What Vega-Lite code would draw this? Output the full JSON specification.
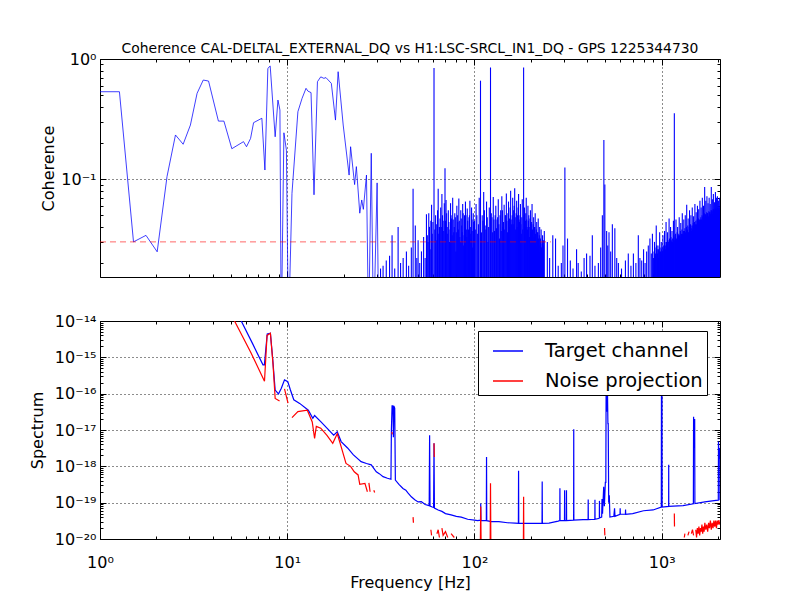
{
  "$schema": "https://vega.github.io/schema/vega-lite/v6.json",
  "padding": {"left": 28, "top": 41, "right": 5, "bottom": 5},
  "bounds": "flush",
  "spacing": 44,
  "config": {
    "font": "DejaVu Sans",
    "view": {"stroke": "black", "strokeWidth": 1},
    "axis": {
      "domain": false,
      "tickColor": "black",
      "tickWidth": 1,
      "labelColor": "black",
      "labelFontSize": 16,
      "labelOverlap": false,
      "labelFlush": false,
      "titleFontSize": 16,
      "titleFontWeight": "normal",
      "titleColor": "black",
      "gridColor": "black",
      "gridDash": [1, 3],
      "gridWidth": 1
    }
  },
  "vconcat": [
    {
      "width": 620,
      "height": 218,
      "title": {
        "text": "Coherence CAL-DELTAL_EXTERNAL_DQ vs H1:LSC-SRCL_IN1_DQ - GPS 1225344730",
        "fontSize": 13.9,
        "fontWeight": "normal",
        "color": "black",
        "offset": -5,
        "anchor": "middle"
      },
      "layer": [
        {
          "data": {"values": [
            {"f": 31.5, "c": 0.018}, {"f": 32.5, "c": 0.019}, {"f": 33.8, "c": 0.021}, {"f": 35.2, "c": 0.023},
            {"f": 36.3, "c": 0.034}, {"f": 37.5, "c": 0.018}, {"f": 39.1, "c": 0.04}, {"f": 40.3, "c": 0.02},
            {"f": 41.6, "c": 0.022}, {"f": 43.3, "c": 0.025}, {"f": 44.5, "c": 0.019}, {"f": 46, "c": 0.027},
            {"f": 47, "c": 0.083}, {"f": 48.3, "c": 0.041}, {"f": 49.2, "c": 0.022}, {"f": 50, "c": 0.031},
            {"f": 51, "c": 0.02}, {"f": 52.1, "c": 0.025}, {"f": 53.5, "c": 0.033}, {"f": 54.5, "c": 0.022},
            {"f": 55.4, "c": 0.051},
            {"f": 56, "c": 0.034}, {"f": 57, "c": 0.052}, {"f": 58, "c": 0.026}, {"f": 59, "c": 0.061},
            {"f": 60, "c": 0.044}, {"f": 60.8, "c": 0.84}, {"f": 62, "c": 0.05}, {"f": 63, "c": 0.031},
            {"f": 64, "c": 0.083}, {"f": 65, "c": 0.04}, {"f": 66, "c": 0.058}, {"f": 67, "c": 0.075},
            {"f": 68, "c": 0.045}, {"f": 69, "c": 0.063}, {"f": 69.6, "c": 0.123}, {"f": 70.5, "c": 0.067},
            {"f": 71.5, "c": 0.04}, {"f": 72.5, "c": 0.055}, {"f": 73.5, "c": 0.03}, {"f": 74.5, "c": 0.063},
            {"f": 75.5, "c": 0.047}, {"f": 76.5, "c": 0.07}, {"f": 77.5, "c": 0.036}, {"f": 78.5, "c": 0.052},
            {"f": 79.5, "c": 0.025}, {"f": 80.5, "c": 0.06}, {"f": 81.5, "c": 0.044}, {"f": 82.5, "c": 0.069},
            {"f": 83.5, "c": 0.033}, {"f": 84.5, "c": 0.055}, {"f": 85.5, "c": 0.041}, {"f": 86.5, "c": 0.062},
            {"f": 87.5, "c": 0.028}, {"f": 88.5, "c": 0.05}, {"f": 89.5, "c": 0.065}, {"f": 90.5, "c": 0.038},
            {"f": 91.5, "c": 0.057}, {"f": 92.5, "c": 0.03}, {"f": 93.5, "c": 0.048}, {"f": 94.5, "c": 0.066},
            {"f": 95.5, "c": 0.035}, {"f": 96.5, "c": 0.058}, {"f": 97.5, "c": 0.027}, {"f": 98.5, "c": 0.052},
            {"f": 99.5, "c": 0.04},
            {"f": 56.5, "c": 0.03}, {"f": 57.5, "c": 0.04}, {"f": 58.5, "c": 0.045}, {"f": 59.5, "c": 0.035},
            {"f": 61.4, "c": 0.038}, {"f": 62.5, "c": 0.042}, {"f": 63.5, "c": 0.055}, {"f": 64.5, "c": 0.035},
            {"f": 65.5, "c": 0.047}, {"f": 66.5, "c": 0.04}, {"f": 67.5, "c": 0.05}, {"f": 68.5, "c": 0.037},
            {"f": 70, "c": 0.045}, {"f": 71, "c": 0.052}, {"f": 72, "c": 0.035}, {"f": 73, "c": 0.044},
            {"f": 74, "c": 0.038}, {"f": 75, "c": 0.05}, {"f": 76, "c": 0.034}, {"f": 77, "c": 0.046},
            {"f": 78, "c": 0.04}, {"f": 79, "c": 0.048}, {"f": 80, "c": 0.036}, {"f": 81, "c": 0.05},
            {"f": 82, "c": 0.038}, {"f": 83, "c": 0.045}, {"f": 84, "c": 0.03}, {"f": 85, "c": 0.047},
            {"f": 86, "c": 0.036}, {"f": 87, "c": 0.052}, {"f": 88, "c": 0.034}, {"f": 89, "c": 0.042},
            {"f": 90, "c": 0.05}, {"f": 91, "c": 0.033}, {"f": 92, "c": 0.045}, {"f": 93, "c": 0.038},
            {"f": 94, "c": 0.05}, {"f": 95, "c": 0.04}, {"f": 96, "c": 0.032}, {"f": 97, "c": 0.046},
            {"f": 98, "c": 0.037}, {"f": 99, "c": 0.044},
            {"f": 100, "c": 0.045}, {"f": 102, "c": 0.062}, {"f": 104, "c": 0.035}, {"f": 106, "c": 0.07},
            {"f": 107.7, "c": 0.66}, {"f": 110, "c": 0.05}, {"f": 112, "c": 0.078}, {"f": 114, "c": 0.041},
            {"f": 116, "c": 0.065}, {"f": 118, "c": 0.03}, {"f": 120, "c": 0.058}, {"f": 121.8, "c": 0.85},
            {"f": 124, "c": 0.048}, {"f": 126, "c": 0.071}, {"f": 128, "c": 0.037}, {"f": 130, "c": 0.06},
            {"f": 132, "c": 0.046}, {"f": 134, "c": 0.068}, {"f": 136, "c": 0.032}, {"f": 138, "c": 0.055},
            {"f": 140, "c": 0.072}, {"f": 142, "c": 0.04}, {"f": 144, "c": 0.061}, {"f": 146, "c": 0.05},
            {"f": 148, "c": 0.076}, {"f": 150, "c": 0.036}, {"f": 152, "c": 0.065}, {"f": 154, "c": 0.047},
            {"f": 156, "c": 0.08}, {"f": 158, "c": 0.042}, {"f": 160, "c": 0.07}, {"f": 162, "c": 0.055},
            {"f": 164, "c": 0.084}, {"f": 166, "c": 0.038}, {"f": 168, "c": 0.066}, {"f": 170, "c": 0.05},
            {"f": 172, "c": 0.075}, {"f": 174, "c": 0.044}, {"f": 176, "c": 0.062}, {"f": 178, "c": 0.035},
            {"f": 180, "c": 0.068}, {"f": 183, "c": 0.85}, {"f": 185, "c": 0.058}, {"f": 187, "c": 0.045},
            {"f": 189, "c": 0.07}, {"f": 191, "c": 0.04}, {"f": 193, "c": 0.06}, {"f": 195, "c": 0.05},
            {"f": 197, "c": 0.033}, {"f": 199, "c": 0.055}, {"f": 201, "c": 0.042}, {"f": 203, "c": 0.062},
            {"f": 205, "c": 0.03}, {"f": 207, "c": 0.048}, {"f": 209, "c": 0.04}, {"f": 211, "c": 0.052},
            {"f": 213, "c": 0.028}, {"f": 215, "c": 0.044}, {"f": 217, "c": 0.036}, {"f": 219, "c": 0.047},
            {"f": 221, "c": 0.025}, {"f": 223, "c": 0.04}, {"f": 225, "c": 0.032}, {"f": 227, "c": 0.038},
            {"f": 229, "c": 0.022}, {"f": 231, "c": 0.034}, {"f": 233, "c": 0.028}, {"f": 236, "c": 0.037},
            {"f": 101, "c": 0.038}, {"f": 103, "c": 0.05}, {"f": 105, "c": 0.042}, {"f": 109, "c": 0.036},
            {"f": 111, "c": 0.045}, {"f": 113, "c": 0.055}, {"f": 115, "c": 0.038}, {"f": 117, "c": 0.048},
            {"f": 119, "c": 0.04}, {"f": 123, "c": 0.052}, {"f": 125, "c": 0.036}, {"f": 127, "c": 0.046},
            {"f": 129, "c": 0.05}, {"f": 131, "c": 0.039}, {"f": 133, "c": 0.048}, {"f": 135, "c": 0.042},
            {"f": 137, "c": 0.05}, {"f": 139, "c": 0.037}, {"f": 141, "c": 0.055}, {"f": 143, "c": 0.044},
            {"f": 145, "c": 0.038}, {"f": 147, "c": 0.05}, {"f": 149, "c": 0.045}, {"f": 151, "c": 0.052},
            {"f": 153, "c": 0.04}, {"f": 155, "c": 0.058}, {"f": 157, "c": 0.046}, {"f": 159, "c": 0.05},
            {"f": 161, "c": 0.042}, {"f": 163, "c": 0.06}, {"f": 165, "c": 0.048}, {"f": 167, "c": 0.052},
            {"f": 169, "c": 0.04}, {"f": 171, "c": 0.058}, {"f": 173, "c": 0.046}, {"f": 175, "c": 0.05},
            {"f": 177, "c": 0.042}, {"f": 179, "c": 0.048}, {"f": 181, "c": 0.038}, {"f": 184, "c": 0.05},
            {"f": 186, "c": 0.04}, {"f": 188, "c": 0.052}, {"f": 190, "c": 0.046}, {"f": 192, "c": 0.038},
            {"f": 194, "c": 0.045}, {"f": 196, "c": 0.04}, {"f": 198, "c": 0.047}, {"f": 200, "c": 0.036},
            {"f": 202, "c": 0.044}, {"f": 204, "c": 0.038}, {"f": 206, "c": 0.042}, {"f": 208, "c": 0.033},
            {"f": 210, "c": 0.04}, {"f": 212, "c": 0.035}, {"f": 214, "c": 0.038}, {"f": 216, "c": 0.03},
            {"f": 218, "c": 0.036}, {"f": 220, "c": 0.032}, {"f": 222, "c": 0.034}, {"f": 224, "c": 0.028},
            {"f": 226, "c": 0.03}, {"f": 228, "c": 0.027}, {"f": 230, "c": 0.029}, {"f": 232, "c": 0.024},
            {"f": 234, "c": 0.031},
            {"f": 245, "c": 0.03}, {"f": 252, "c": 0.022}, {"f": 262, "c": 0.034}, {"f": 271, "c": 0.032},
            {"f": 280, "c": 0.019}, {"f": 291, "c": 0.02}, {"f": 297, "c": 0.028}, {"f": 304, "c": 0.125},
            {"f": 314, "c": 0.032}, {"f": 325, "c": 0.021}, {"f": 336, "c": 0.018}, {"f": 351, "c": 0.026},
            {"f": 358, "c": 0.02}, {"f": 372, "c": 0.017}, {"f": 385, "c": 0.022}, {"f": 397, "c": 0.024},
            {"f": 414, "c": 0.023}, {"f": 426, "c": 0.034}, {"f": 440, "c": 0.019}, {"f": 459, "c": 0.02},
            {"f": 472, "c": 0.027}, {"f": 482, "c": 0.05}, {"f": 491, "c": 0.212}, {"f": 497, "c": 0.09},
            {"f": 508, "c": 0.037}, {"f": 515, "c": 0.028}, {"f": 523, "c": 0.036}, {"f": 534, "c": 0.025},
            {"f": 545, "c": 0.042}, {"f": 562, "c": 0.039}, {"f": 575, "c": 0.022}, {"f": 587, "c": 0.02},
            {"f": 610, "c": 0.018}, {"f": 640, "c": 0.021}, {"f": 663, "c": 0.024}, {"f": 685, "c": 0.019},
            {"f": 706, "c": 0.024}, {"f": 728, "c": 0.02}, {"f": 750, "c": 0.034}, {"f": 765, "c": 0.022},
            {"f": 782, "c": 0.021}, {"f": 800, "c": 0.026}, {"f": 815, "c": 0.02}, {"f": 831, "c": 0.025},
            {"f": 848, "c": 0.028}, {"f": 865, "c": 0.032}, {"f": 880, "c": 0.024}, {"f": 892, "c": 0.035},
            {"f": 905, "c": 0.022}, {"f": 915, "c": 0.03}, {"f": 925, "c": 0.024}, {"f": 935, "c": 0.041},
            {"f": 945, "c": 0.026}, {"f": 955, "c": 0.028}, {"f": 965, "c": 0.022}, {"f": 975, "c": 0.036},
            {"f": 985, "c": 0.025}, {"f": 995, "c": 0.03}, {"f": 1005, "c": 0.027}, {"f": 1015, "c": 0.034},
            {"f": 1025, "c": 0.026}, {"f": 1035, "c": 0.037}, {"f": 1045, "c": 0.028}, {"f": 1055, "c": 0.044},
            {"f": 1065, "c": 0.027}, {"f": 1075, "c": 0.036}, {"f": 1085, "c": 0.03}, {"f": 1095, "c": 0.047},
            {"f": 1105, "c": 0.029}, {"f": 1115, "c": 0.04}, {"f": 1125, "c": 0.031}, {"f": 1135, "c": 0.037},
            {"f": 1145, "c": 0.03}, {"f": 1155, "c": 0.045}, {"f": 1168, "c": 0.353}, {"f": 1180, "c": 0.033},
            {"f": 1192, "c": 0.046}, {"f": 1204, "c": 0.031}, {"f": 1216, "c": 0.04}, {"f": 1228, "c": 0.034},
            {"f": 1240, "c": 0.048}, {"f": 1252, "c": 0.032}, {"f": 1264, "c": 0.043}, {"f": 1276, "c": 0.035},
            {"f": 1288, "c": 0.052}, {"f": 1300, "c": 0.034}, {"f": 1312, "c": 0.046}, {"f": 1324, "c": 0.037},
            {"f": 1336, "c": 0.05}, {"f": 1348, "c": 0.035}, {"f": 1360, "c": 0.061}, {"f": 1372, "c": 0.038},
            {"f": 1384, "c": 0.047}, {"f": 1396, "c": 0.036}, {"f": 1408, "c": 0.055}, {"f": 1420, "c": 0.04},
            {"f": 1432, "c": 0.05}, {"f": 1444, "c": 0.037}, {"f": 1456, "c": 0.058}, {"f": 1468, "c": 0.041},
            {"f": 1480, "c": 0.049}, {"f": 1492, "c": 0.039}, {"f": 1504, "c": 0.062}, {"f": 1516, "c": 0.042},
            {"f": 1528, "c": 0.053}, {"f": 1540, "c": 0.04}, {"f": 1552, "c": 0.06}, {"f": 1564, "c": 0.045},
            {"f": 1576, "c": 0.056}, {"f": 1588, "c": 0.042}, {"f": 1600, "c": 0.066}, {"f": 1612, "c": 0.046},
            {"f": 1624, "c": 0.058}, {"f": 1636, "c": 0.044}, {"f": 1648, "c": 0.07}, {"f": 1660, "c": 0.048},
            {"f": 1672, "c": 0.06}, {"f": 1684, "c": 0.046}, {"f": 1696, "c": 0.086}, {"f": 1708, "c": 0.05},
            {"f": 1720, "c": 0.066}, {"f": 1732, "c": 0.048}, {"f": 1744, "c": 0.072}, {"f": 1756, "c": 0.052},
            {"f": 1768, "c": 0.063}, {"f": 1780, "c": 0.047}, {"f": 1792, "c": 0.07}, {"f": 1804, "c": 0.053},
            {"f": 1816, "c": 0.062}, {"f": 1828, "c": 0.05}, {"f": 1840, "c": 0.086}, {"f": 1852, "c": 0.055},
            {"f": 1864, "c": 0.068}, {"f": 1876, "c": 0.051}, {"f": 1888, "c": 0.075}, {"f": 1900, "c": 0.056},
            {"f": 1912, "c": 0.064}, {"f": 1924, "c": 0.05}, {"f": 1936, "c": 0.078}, {"f": 1948, "c": 0.055},
            {"f": 1960, "c": 0.07}, {"f": 1972, "c": 0.052}, {"f": 1984, "c": 0.072}, {"f": 1996, "c": 0.057},
            {"f": 2008, "c": 0.066}, {"f": 2020, "c": 0.054}, {"f": 2032, "c": 0.07}, {"f": 2044, "c": 0.058},
            {"f": 910, "c": 0.025}, {"f": 920, "c": 0.027}, {"f": 930, "c": 0.023}, {"f": 940, "c": 0.028},
            {"f": 950, "c": 0.024}, {"f": 960, "c": 0.026}, {"f": 970, "c": 0.025}, {"f": 980, "c": 0.027},
            {"f": 990, "c": 0.024}, {"f": 1000, "c": 0.026}, {"f": 1010, "c": 0.025}, {"f": 1020, "c": 0.028},
            {"f": 1030, "c": 0.027}, {"f": 1040, "c": 0.03}, {"f": 1050, "c": 0.026}, {"f": 1060, "c": 0.03},
            {"f": 1070, "c": 0.028}, {"f": 1080, "c": 0.031}, {"f": 1090, "c": 0.027}, {"f": 1100, "c": 0.032},
            {"f": 1110, "c": 0.029}, {"f": 1120, "c": 0.033}, {"f": 1130, "c": 0.03}, {"f": 1140, "c": 0.032},
            {"f": 1150, "c": 0.029}, {"f": 1162, "c": 0.034}, {"f": 1174, "c": 0.031}, {"f": 1186, "c": 0.035},
            {"f": 1198, "c": 0.032}, {"f": 1210, "c": 0.036}, {"f": 1222, "c": 0.033}, {"f": 1234, "c": 0.035},
            {"f": 1246, "c": 0.034}, {"f": 1258, "c": 0.037}, {"f": 1270, "c": 0.033}, {"f": 1282, "c": 0.038},
            {"f": 1294, "c": 0.035}, {"f": 1306, "c": 0.037}, {"f": 1318, "c": 0.034}, {"f": 1330, "c": 0.039},
            {"f": 1342, "c": 0.036}, {"f": 1354, "c": 0.04}, {"f": 1366, "c": 0.037}, {"f": 1378, "c": 0.041},
            {"f": 1390, "c": 0.036}, {"f": 1402, "c": 0.04}, {"f": 1414, "c": 0.038}, {"f": 1426, "c": 0.042},
            {"f": 1438, "c": 0.039}, {"f": 1450, "c": 0.041}, {"f": 1462, "c": 0.038}, {"f": 1474, "c": 0.043},
            {"f": 1486, "c": 0.04}, {"f": 1498, "c": 0.044}, {"f": 1510, "c": 0.041}, {"f": 1522, "c": 0.045},
            {"f": 1534, "c": 0.042}, {"f": 1546, "c": 0.046}, {"f": 1558, "c": 0.043}, {"f": 1570, "c": 0.047},
            {"f": 1582, "c": 0.044}, {"f": 1594, "c": 0.046}, {"f": 1606, "c": 0.045}, {"f": 1618, "c": 0.048},
            {"f": 1630, "c": 0.046}, {"f": 1642, "c": 0.05}, {"f": 1654, "c": 0.045}, {"f": 1666, "c": 0.049},
            {"f": 1678, "c": 0.047}, {"f": 1690, "c": 0.052}, {"f": 1702, "c": 0.048}, {"f": 1714, "c": 0.051},
            {"f": 1726, "c": 0.049}, {"f": 1738, "c": 0.053}, {"f": 1750, "c": 0.05}, {"f": 1762, "c": 0.052},
            {"f": 1774, "c": 0.049}, {"f": 1786, "c": 0.054}, {"f": 1798, "c": 0.05}, {"f": 1810, "c": 0.053},
            {"f": 1822, "c": 0.051}, {"f": 1834, "c": 0.055}, {"f": 1846, "c": 0.052}, {"f": 1858, "c": 0.054},
            {"f": 1870, "c": 0.05}, {"f": 1882, "c": 0.056}, {"f": 1894, "c": 0.053}, {"f": 1906, "c": 0.055},
            {"f": 1918, "c": 0.052}, {"f": 1930, "c": 0.057}, {"f": 1942, "c": 0.054}, {"f": 1954, "c": 0.056},
            {"f": 1966, "c": 0.053}, {"f": 1978, "c": 0.058}, {"f": 1990, "c": 0.055}, {"f": 2002, "c": 0.057},
            {"f": 2014, "c": 0.054}, {"f": 2026, "c": 0.058}, {"f": 2038, "c": 0.055}
          ]},
          "mark": {"type": "rule", "color": "blue", "strokeWidth": 1.1, "opacity": 1, "clip": true},
          "encoding": {
            "x": {
              "field": "f", "type": "quantitative",
              "scale": {"type": "log", "domain": [1, 2048], "nice": false},
              "axis": {
                "orient": "bottom",
                "values": [1, 2, 3, 4, 5, 6, 7, 8, 9, 10, 20, 30, 40, 50, 60, 70, 80, 90, 100, 200, 300, 400, 500, 600, 700, 800, 900, 1000, 2000],
                "labels": false,
                "title": null,
                "grid": true,
                "gridOpacity": {"condition": {"test": "abs(log(datum.value)/LN10-round(log(datum.value)/LN10))<0.01", "value": 0.9}, "value": 0},
                "tickSize": {"condition": {"test": "abs(log(datum.value)/LN10-round(log(datum.value)/LN10))<0.01", "value": -6}, "value": -3}
              }
            },
            "y": {
              "field": "c", "type": "quantitative",
              "scale": {"type": "log", "domain": [0.0153, 1], "nice": false},
              "axis": {
                "orient": "left",
                "values": [0.02, 0.03, 0.04, 0.05, 0.06, 0.07, 0.08, 0.09, 0.1, 0.2, 0.3, 0.4, 0.5, 0.6, 0.7, 0.8, 0.9, 1],
                "labelExpr": "abs(log(datum.value)/LN10-round(log(datum.value)/LN10))<0.01 ? '10'+(round(log(datum.value)/LN10)<0?'⁻':'')+(abs(round(log(datum.value)/LN10))>=10?substring('⁰¹²³⁴⁵⁶⁷⁸⁹',floor(abs(round(log(datum.value)/LN10))/10),floor(abs(round(log(datum.value)/LN10))/10)+1):'')+substring('⁰¹²³⁴⁵⁶⁷⁸⁹',abs(round(log(datum.value)/LN10))%10,abs(round(log(datum.value)/LN10))%10+1) : ''",
                "labelPadding": 10,
                "title": "Coherence",
                "titleX": -52,
                "titleY": 109,
                "titleBaseline": "middle",
                "grid": true,
                "gridOpacity": {"condition": {"test": "abs(log(datum.value)/LN10-round(log(datum.value)/LN10))<0.01", "value": 0.9}, "value": 0},
                "tickSize": {"condition": {"test": "abs(log(datum.value)/LN10-round(log(datum.value)/LN10))<0.01", "value": -6}, "value": -3}
              }
            },
            "y2": {"datum": 0.0153}
          }
        },
        {
          "data": {"values": [
            {"f": 1.0, "c": 0.534}, {"f": 1.27, "c": 0.534}, {"f": 1.51, "c": 0.03}, {"f": 1.76, "c": 0.034},
            {"f": 2.02, "c": 0.0248}, {"f": 2.28, "c": 0.105}, {"f": 2.53, "c": 0.233}, {"f": 2.78, "c": 0.195},
            {"f": 3.04, "c": 0.282}, {"f": 3.3, "c": 0.518}, {"f": 3.56, "c": 0.668}, {"f": 3.8, "c": 0.655},
            {"f": 4.29, "c": 0.304}, {"f": 4.59, "c": 0.304}, {"f": 5.06, "c": 0.179}, {"f": 5.84, "c": 0.205},
            {"f": 6.06, "c": 0.186}, {"f": 6.37, "c": 0.218}, {"f": 6.61, "c": 0.295}, {"f": 7.32, "c": 0.321},
            {"f": 7.6, "c": 0.119}, {"f": 7.88, "c": 0.836}, {"f": 8.11, "c": 0.874}, {"f": 8.62, "c": 0.225},
            {"f": 8.92, "c": 0.455}, {"f": 9.14, "c": 0.376}, {"f": 9.29, "c": 0.005}, {"f": 9.6, "c": 0.243},
            {"f": 9.9, "c": 0.174}, {"f": 10.15, "c": 0.005}, {"f": 10.6, "c": 0.076}, {"f": 11.4, "c": 0.364},
            {"f": 12.0, "c": 0.47}, {"f": 12.6, "c": 0.57}, {"f": 12.9, "c": 0.54}, {"f": 13.4, "c": 0.525},
            {"f": 13.9, "c": 0.074}, {"f": 14.5, "c": 0.647}, {"f": 15.1, "c": 0.71}, {"f": 15.7, "c": 0.69},
            {"f": 16.1, "c": 0.7}, {"f": 17.2, "c": 0.627}, {"f": 18.1, "c": 0.31}, {"f": 18.7, "c": 0.784},
            {"f": 19.9, "c": 0.282}, {"f": 21.4, "c": 0.108}, {"f": 21.8, "c": 0.186}, {"f": 22.9, "c": 0.09},
            {"f": 23.4, "c": 0.127}, {"f": 24.4, "c": 0.052}, {"f": 25.0, "c": 0.067}, {"f": 25.5, "c": 0.056},
            {"f": 26.5, "c": 0.108}, {"f": 27.2, "c": 0.005}, {"f": 28.1, "c": 0.164}, {"f": 28.9, "c": 0.005},
            {"f": 30.2, "c": 0.093}, {"f": 30.8, "c": 0.005}
          ]},
          "mark": {"type": "line", "color": "blue", "strokeWidth": 1, "opacity": 0.75, "clip": true},
          "encoding": {
            "x": {"field": "f", "type": "quantitative", "scale": {"type": "log", "domain": [1, 2048], "nice": false}, "axis": null},
            "y": {"field": "c", "type": "quantitative", "scale": {"type": "log", "domain": [0.0153, 1], "nice": false}, "axis": null}
          }
        },
        {
          "data": {"values": [{"f": 1, "c": 0.03}, {"f": 256, "c": 0.03}]},
          "mark": {"type": "line", "color": "red", "strokeWidth": 1, "opacity": 0.6, "strokeDash": [6, 4], "clip": true},
          "encoding": {
            "x": {
              "field": "f", "type": "quantitative",
              "scale": {"type": "log", "domain": [1, 2048], "nice": false},
              "axis": {
                "orient": "top",
                "values": [1, 2, 3, 4, 5, 6, 7, 8, 9, 10, 20, 30, 40, 50, 60, 70, 80, 90, 100, 200, 300, 400, 500, 600, 700, 800, 900, 1000, 2000],
                "labels": false, "title": null, "grid": false,
                "tickSize": {"condition": {"test": "abs(log(datum.value)/LN10-round(log(datum.value)/LN10))<0.01", "value": -6}, "value": -3}
              }
            },
            "y": {
              "field": "c", "type": "quantitative",
              "scale": {"type": "log", "domain": [0.0153, 1], "nice": false},
              "axis": {
                "orient": "right",
                "values": [0.02, 0.03, 0.04, 0.05, 0.06, 0.07, 0.08, 0.09, 0.1, 0.2, 0.3, 0.4, 0.5, 0.6, 0.7, 0.8, 0.9, 1],
                "labels": false, "title": null, "grid": false,
                "tickSize": {"condition": {"test": "abs(log(datum.value)/LN10-round(log(datum.value)/LN10))<0.01", "value": -6}, "value": -3}
              }
            }
          }
        }
      ],
      "resolve": {"axis": {"x": "independent", "y": "independent"}}
    },
    {
      "width": 620,
      "height": 218,
      "layer": [
        {
          "data": {"values": [
            {"f": 5.0, "v": 3.8e-14}, {"f": 5.68, "v": 1e-14}, {"f": 6.5, "v": 2.5e-15}, {"f": 7.42, "v": 6.2e-16},
            {"f": 7.55, "v": 6.2e-16}, {"f": 7.82, "v": 4.4e-15}, {"f": 8.13, "v": 4.6e-15}, {"f": 8.35, "v": 1e-15},
            {"f": 8.62, "v": 1.26e-16}, {"f": 8.98, "v": 9.8e-17}, {"f": 9.3, "v": 1.41e-16}, {"f": 9.67, "v": 2.4e-16},
            {"f": 10.07, "v": 2.14e-16}, {"f": 10.4, "v": 1.26e-16}, {"f": 10.84, "v": 6.8e-17}, {"f": 11.65, "v": 5.4e-17},
            {"f": 12.96, "v": 3.5e-17}, {"f": 13.7, "v": 2.1e-17}, {"f": 14.0, "v": 2.5e-17}, {"f": 15.1, "v": 1.7e-17},
            {"f": 16.3, "v": 1.12e-17}, {"f": 17.7, "v": 7.2e-18}, {"f": 18.5, "v": 8.9e-18}, {"f": 19.4, "v": 4.8e-18},
            {"f": 21, "v": 3.2e-18}, {"f": 22.5, "v": 2.1e-18}, {"f": 24.8, "v": 1.35e-18}, {"f": 26.5, "v": 1.2e-18},
            {"f": 28.1, "v": 1.1e-18}, {"f": 29.9, "v": 7.1e-19}, {"f": 31, "v": 6.3e-19}, {"f": 32.5, "v": 5.2e-19},
            {"f": 34.3, "v": 4.7e-19}, {"f": 35.8, "v": 4.4e-19}, {"f": 36.0, "v": 1e-17}, {"f": 36.3, "v": 4.6e-17},
            {"f": 36.7, "v": 4.6e-17}, {"f": 36.9, "v": 6.3e-18}, {"f": 37.1, "v": 4.6e-17}, {"f": 37.5, "v": 4e-17},
            {"f": 37.8, "v": 4.2e-19}, {"f": 39.5, "v": 3.2e-19}, {"f": 41.5, "v": 2.45e-19}, {"f": 43, "v": 2.2e-19},
            {"f": 44, "v": 1.9e-19}, {"f": 46, "v": 1.45e-19}, {"f": 48, "v": 1.2e-19}, {"f": 50, "v": 1.05e-19},
            {"f": 52, "v": 1.07e-19}, {"f": 54.5, "v": 8.9e-20}, {"f": 57.3, "v": 8.3e-20}, {"f": 57.6, "v": 7.2e-18},
            {"f": 57.9, "v": 8e-20}, {"f": 59.5, "v": 7.6e-20}, {"f": 60.5, "v": 7.4e-20}, {"f": 60.8, "v": 4.3e-18},
            {"f": 61.1, "v": 7.1e-20}, {"f": 64, "v": 6.3e-20}, {"f": 67, "v": 5.75e-20}, {"f": 70, "v": 5e-20},
            {"f": 75, "v": 4.6e-20}, {"f": 80, "v": 4.2e-20}, {"f": 85, "v": 4e-20}, {"f": 92, "v": 3.5e-20},
            {"f": 100, "v": 3.3e-20}, {"f": 104, "v": 3.2e-20}, {"f": 107.7, "v": 3.3e-20}, {"f": 108, "v": 9.5e-20},
            {"f": 108.3, "v": 3.2e-20}, {"f": 115.7, "v": 3.2e-20}, {"f": 116, "v": 1.8e-18}, {"f": 116.3, "v": 3.2e-20},
            {"f": 123, "v": 3e-20}, {"f": 135, "v": 3e-20}, {"f": 150, "v": 2.8e-20}, {"f": 165, "v": 2.75e-20},
            {"f": 171.6, "v": 2.7e-20}, {"f": 172, "v": 7.6e-19}, {"f": 172.4, "v": 2.7e-20}, {"f": 210, "v": 2.7e-20},
            {"f": 229.5, "v": 2.7e-20}, {"f": 230, "v": 3.8e-19}, {"f": 230.5, "v": 2.7e-20}, {"f": 250, "v": 2.75e-20},
            {"f": 280, "v": 3.1e-20}, {"f": 285.5, "v": 3.2e-20}, {"f": 286, "v": 2.5e-19}, {"f": 286.5, "v": 3.2e-20},
            {"f": 302.5, "v": 3.2e-20}, {"f": 303, "v": 2.2e-19}, {"f": 303.5, "v": 3.2e-20}, {"f": 309.5, "v": 3.2e-20},
            {"f": 310, "v": 2.2e-19}, {"f": 310.5, "v": 3.2e-20}, {"f": 338.5, "v": 3.3e-20}, {"f": 339, "v": 1.05e-17},
            {"f": 339.5, "v": 3.3e-20}, {"f": 380, "v": 3.4e-20}, {"f": 404.5, "v": 3.4e-20}, {"f": 405, "v": 1.23e-19},
            {"f": 405.5, "v": 3.4e-20}, {"f": 439.5, "v": 3.5e-20}, {"f": 440, "v": 1.2e-19}, {"f": 440.5, "v": 3.5e-20},
            {"f": 464.5, "v": 3.7e-20}, {"f": 465, "v": 1.12e-19}, {"f": 465.5, "v": 3.8e-20}, {"f": 478, "v": 4e-20},
            {"f": 480, "v": 1.26e-19}, {"f": 483, "v": 5e-20}, {"f": 490, "v": 2.75e-19}, {"f": 494, "v": 8e-20},
            {"f": 500, "v": 3.6e-19}, {"f": 503, "v": 3.6e-19}, {"f": 505, "v": 3.2e-16}, {"f": 509, "v": 3.2e-17},
            {"f": 512, "v": 3.2e-16}, {"f": 516, "v": 1.5e-17}, {"f": 518, "v": 1.5e-17}, {"f": 521, "v": 1e-19},
            {"f": 525, "v": 1.6e-19}, {"f": 529, "v": 4e-20}, {"f": 555, "v": 4.2e-20}, {"f": 560, "v": 7e-20},
            {"f": 563, "v": 4.2e-20}, {"f": 599, "v": 4.8e-20}, {"f": 600, "v": 7e-20}, {"f": 601, "v": 4.8e-20},
            {"f": 640, "v": 4.8e-20}, {"f": 641, "v": 6.5e-20}, {"f": 642, "v": 4.8e-20}, {"f": 700, "v": 5e-20},
            {"f": 800, "v": 6e-20}, {"f": 900, "v": 6.3e-20}, {"f": 995, "v": 7.6e-20}, {"f": 997, "v": 3.2e-16},
            {"f": 1000, "v": 1e-17}, {"f": 1003, "v": 3.2e-16}, {"f": 1005, "v": 7.6e-20}, {"f": 1089, "v": 7.9e-20},
            {"f": 1090, "v": 1.1e-18}, {"f": 1091, "v": 7.9e-20}, {"f": 1300, "v": 8.3e-20}, {"f": 1476, "v": 9.3e-20},
            {"f": 1480, "v": 2.3e-17}, {"f": 1490, "v": 3.2e-18}, {"f": 1500, "v": 2e-17}, {"f": 1504, "v": 9.5e-20},
            {"f": 1700, "v": 1.05e-19}, {"f": 1950, "v": 1.15e-19}, {"f": 2006, "v": 1.17e-19}, {"f": 2010, "v": 4.8e-18},
            {"f": 2025, "v": 1.6e-18}, {"f": 2040, "v": 3.2e-18}, {"f": 2046, "v": 1.17e-19}
          ]},
          "mark": {"type": "line", "strokeWidth": 1.2, "clip": true},
          "encoding": {
            "x": {
              "field": "f", "type": "quantitative",
              "scale": {"type": "log", "domain": [1, 2048], "nice": false},
              "axis": {
                "orient": "bottom",
                "values": [1, 2, 3, 4, 5, 6, 7, 8, 9, 10, 20, 30, 40, 50, 60, 70, 80, 90, 100, 200, 300, 400, 500, 600, 700, 800, 900, 1000, 2000],
                "labelExpr": "abs(log(datum.value)/LN10-round(log(datum.value)/LN10))<0.01 ? '10'+(round(log(datum.value)/LN10)<0?'⁻':'')+(abs(round(log(datum.value)/LN10))>=10?substring('⁰¹²³⁴⁵⁶⁷⁸⁹',floor(abs(round(log(datum.value)/LN10))/10),floor(abs(round(log(datum.value)/LN10))/10)+1):'')+substring('⁰¹²³⁴⁵⁶⁷⁸⁹',abs(round(log(datum.value)/LN10))%10,abs(round(log(datum.value)/LN10))%10+1) : ''",
                "labelPadding": 21,
                "title": "Frequency [Hz]",
                "titleY": 43,
                "titleBaseline": "middle",
                "grid": true,
                "gridOpacity": {"condition": {"test": "abs(log(datum.value)/LN10-round(log(datum.value)/LN10))<0.01", "value": 0.9}, "value": 0},
                "tickSize": {"condition": {"test": "abs(log(datum.value)/LN10-round(log(datum.value)/LN10))<0.01", "value": -6}, "value": -3}
              }
            },
            "y": {
              "field": "v", "type": "quantitative",
              "scale": {"type": "log", "domain": [1e-20, 1e-14], "nice": false},
              "axis": {
                "orient": "left",
                "values": [1e-20, 2e-20, 3e-20, 4e-20, 5e-20, 6e-20, 7e-20, 8e-20, 9e-20,
                           1e-19, 2e-19, 3e-19, 4e-19, 5e-19, 6e-19, 7e-19, 8e-19, 9e-19,
                           1e-18, 2e-18, 3e-18, 4e-18, 5e-18, 6e-18, 7e-18, 8e-18, 9e-18,
                           1e-17, 2e-17, 3e-17, 4e-17, 5e-17, 6e-17, 7e-17, 8e-17, 9e-17,
                           1e-16, 2e-16, 3e-16, 4e-16, 5e-16, 6e-16, 7e-16, 8e-16, 9e-16,
                           1e-15, 2e-15, 3e-15, 4e-15, 5e-15, 6e-15, 7e-15, 8e-15, 9e-15, 1e-14],
                "labelExpr": "abs(log(datum.value)/LN10-round(log(datum.value)/LN10))<0.01 ? '10'+(round(log(datum.value)/LN10)<0?'⁻':'')+(abs(round(log(datum.value)/LN10))>=10?substring('⁰¹²³⁴⁵⁶⁷⁸⁹',floor(abs(round(log(datum.value)/LN10))/10),floor(abs(round(log(datum.value)/LN10))/10)+1):'')+substring('⁰¹²³⁴⁵⁶⁷⁸⁹',abs(round(log(datum.value)/LN10))%10,abs(round(log(datum.value)/LN10))%10+1) : ''",
                "labelPadding": 10,
                "title": "Spectrum",
                "titleX": -63,
                "titleY": 109,
                "titleBaseline": "middle",
                "grid": true,
                "gridOpacity": {"condition": {"test": "abs(log(datum.value)/LN10-round(log(datum.value)/LN10))<0.01", "value": 0.9}, "value": 0},
                "tickSize": {"condition": {"test": "abs(log(datum.value)/LN10-round(log(datum.value)/LN10))<0.01", "value": -6}, "value": -3}
              }
            },
            "color": {
              "datum": "Target channel",
              "type": "nominal",
              "scale": {"domain": ["Target channel", "Noise projection"], "range": ["blue", "red"]},
              "legend": {
                "orient": "none",
                "legendX": 378,
                "legendY": 272,
                "title": null,
                "symbolType": "stroke",
                "symbolSize": 900,
                "symbolStrokeWidth": 1.5,
                "labelFontSize": 19.5,
                "labelColor": "black",
                "labelLimit": 300,
                "labelOffset": 21,
                "padding": 4,
                "symbolOffset": 10,
                "rowPadding": 4,
                "strokeColor": "black",
                "fillColor": "white",
                "cornerRadius": 0
              }
            }
          }
        },
        {
          "data": {"values": [
            {"f": 4.8, "v": 2.5e-14, "g": 1}, {"f": 5.23, "v": 1e-14, "g": 1}, {"f": 6.42, "v": 1.3e-15, "g": 1},
            {"f": 7.56, "v": 2.2e-16, "g": 1}, {"f": 7.8, "v": 4e-15, "g": 1}, {"f": 8.13, "v": 4.6e-15, "g": 1},
            {"f": 8.4, "v": 6.3e-16, "g": 1}, {"f": 8.62, "v": 7.4e-17, "g": 1}, {"f": 9.1, "v": 6.3e-17, "g": 1},
            {"f": 9.67, "v": 1.35e-16, "g": 2}, {"f": 10.1, "v": 5.5e-17, "g": 2},
            {"f": 10.6, "v": 2.2e-17, "g": 3}, {"f": 11.4, "v": 3.2e-17, "g": 3}, {"f": 12.8, "v": 3.5e-17, "g": 3},
            {"f": 13.6, "v": 1.66e-17, "g": 3}, {"f": 14.0, "v": 5.9e-18, "g": 3}, {"f": 14.3, "v": 1.26e-17, "g": 3},
            {"f": 15.1, "v": 1.12e-17, "g": 3}, {"f": 16.3, "v": 7.1e-18, "g": 3}, {"f": 17.5, "v": 4.3e-18, "g": 3},
            {"f": 18.5, "v": 7.9e-18, "g": 3}, {"f": 19.4, "v": 3.5e-18, "g": 3}, {"f": 20.6, "v": 1.2e-18, "g": 3},
            {"f": 21.8, "v": 1e-18, "g": 3}, {"f": 22.8, "v": 7.1e-19, "g": 3}, {"f": 23.9, "v": 5.8e-19, "g": 3},
            {"f": 24.4, "v": 3.2e-19, "g": 3}, {"f": 26.0, "v": 3.4e-19, "g": 3}, {"f": 26.8, "v": 2e-19, "g": 3},
            {"f": 27.3, "v": 3.5e-19, "g": 4}, {"f": 27.7, "v": 2e-19, "g": 4},
            {"f": 29.0, "v": 2.2e-19, "g": 5}, {"f": 29.3, "v": 1.9e-19, "g": 5},
            {"f": 36.2, "v": 8.9e-18, "g": 6}, {"f": 36.4, "v": 7.6e-18, "g": 6},
            {"f": 47.0, "v": 4e-20, "g": 7}, {"f": 47.2, "v": 2.8e-20, "g": 7},
            {"f": 58.5, "v": 1.8e-20, "g": 8}, {"f": 59, "v": 1.26e-20, "g": 8},
            {"f": 60.8, "v": 4.3e-18, "g": 9}, {"f": 61.0, "v": 1.8e-18, "g": 9},
            {"f": 63, "v": 1.4e-20, "g": 10}, {"f": 64, "v": 1.8e-20, "g": 10}, {"f": 65, "v": 1.1e-20, "g": 10},
            {"f": 67, "v": 2e-20, "g": 11}, {"f": 68, "v": 1.26e-20, "g": 11}, {"f": 70, "v": 1.6e-20, "g": 11}, {"f": 72, "v": 1.1e-20, "g": 11},
            {"f": 75, "v": 1.4e-20, "g": 12}, {"f": 78, "v": 1.1e-20, "g": 12},
            {"f": 107.5, "v": 8e-21, "g": 13}, {"f": 108, "v": 7.9e-20, "g": 13}, {"f": 108.5, "v": 8e-21, "g": 13},
            {"f": 121.3, "v": 8e-21, "g": 14}, {"f": 121.8, "v": 3.4e-19, "g": 14}, {"f": 122.3, "v": 8e-21, "g": 14},
            {"f": 182.5, "v": 8e-21, "g": 15}, {"f": 183, "v": 1.45e-19, "g": 15}, {"f": 183.5, "v": 8e-21, "g": 15},
            {"f": 495, "v": 2e-20, "g": 16}, {"f": 497, "v": 1.26e-20, "g": 16},
            {"f": 1168, "v": 5e-20, "g": 17}, {"f": 1170, "v": 2.2e-20, "g": 17},
            {"f": 1320, "v": 1.1e-20, "g": 18}, {"f": 1330, "v": 1.4e-20, "g": 18},
            {"f": 1380, "v": 1.26e-20, "g": 19}, {"f": 1400, "v": 1.6e-20, "g": 19},
            {"f": 1440, "v": 1.4e-20, "g": 20}, {"f": 1460, "v": 1.8e-20, "g": 20}, {"f": 1480, "v": 1.26e-20, "g": 20},
            {"f": 1520, "v": 1.8e-20, "g": 21}, {"f": 1535, "v": 1.1e-20, "g": 21}, {"f": 1550, "v": 2e-20, "g": 21},
            {"f": 1565, "v": 1.4e-20, "g": 21}, {"f": 1580, "v": 2.2e-20, "g": 21}, {"f": 1595, "v": 1.26e-20, "g": 21},
            {"f": 1610, "v": 2e-20, "g": 21}, {"f": 1625, "v": 1.6e-20, "g": 21}, {"f": 1640, "v": 2.5e-20, "g": 21},
            {"f": 1655, "v": 1.4e-20, "g": 21}, {"f": 1670, "v": 2.2e-20, "g": 21}, {"f": 1685, "v": 1.6e-20, "g": 21},
            {"f": 1700, "v": 2.8e-20, "g": 21}, {"f": 1720, "v": 1.8e-20, "g": 21}, {"f": 1740, "v": 2.5e-20, "g": 21},
            {"f": 1760, "v": 1.6e-20, "g": 21}, {"f": 1780, "v": 2.8e-20, "g": 21}, {"f": 1800, "v": 2e-20, "g": 21},
            {"f": 1820, "v": 3.2e-20, "g": 21}, {"f": 1840, "v": 1.8e-20, "g": 21}, {"f": 1860, "v": 2.8e-20, "g": 21},
            {"f": 1880, "v": 2e-20, "g": 21}, {"f": 1900, "v": 3.2e-20, "g": 21}, {"f": 1920, "v": 2.2e-20, "g": 21},
            {"f": 1940, "v": 3.2e-20, "g": 21}, {"f": 1960, "v": 2e-20, "g": 21}, {"f": 1980, "v": 3.2e-20, "g": 21},
            {"f": 2000, "v": 2.5e-20, "g": 21}, {"f": 2020, "v": 3.3e-20, "g": 21}, {"f": 2040, "v": 2.5e-20, "g": 21}
          ]},
          "mark": {"type": "line", "strokeWidth": 1.2, "clip": true},
          "encoding": {
            "x": {
              "field": "f", "type": "quantitative",
              "scale": {"type": "log", "domain": [1, 2048], "nice": false},
              "axis": {
                "orient": "top",
                "values": [1, 2, 3, 4, 5, 6, 7, 8, 9, 10, 20, 30, 40, 50, 60, 70, 80, 90, 100, 200, 300, 400, 500, 600, 700, 800, 900, 1000, 2000],
                "labels": false, "title": null, "grid": false,
                "tickSize": {"condition": {"test": "abs(log(datum.value)/LN10-round(log(datum.value)/LN10))<0.01", "value": -6}, "value": -3}
              }
            },
            "y": {
              "field": "v", "type": "quantitative",
              "scale": {"type": "log", "domain": [1e-20, 1e-14], "nice": false},
              "axis": {
                "orient": "right",
                "values": [1e-20, 2e-20, 3e-20, 4e-20, 5e-20, 6e-20, 7e-20, 8e-20, 9e-20,
                           1e-19, 2e-19, 3e-19, 4e-19, 5e-19, 6e-19, 7e-19, 8e-19, 9e-19,
                           1e-18, 2e-18, 3e-18, 4e-18, 5e-18, 6e-18, 7e-18, 8e-18, 9e-18,
                           1e-17, 2e-17, 3e-17, 4e-17, 5e-17, 6e-17, 7e-17, 8e-17, 9e-17,
                           1e-16, 2e-16, 3e-16, 4e-16, 5e-16, 6e-16, 7e-16, 8e-16, 9e-16,
                           1e-15, 2e-15, 3e-15, 4e-15, 5e-15, 6e-15, 7e-15, 8e-15, 9e-15, 1e-14],
                "labels": false, "title": null, "grid": false,
                "tickSize": {"condition": {"test": "abs(log(datum.value)/LN10-round(log(datum.value)/LN10))<0.01", "value": -6}, "value": -3}
              }
            },
            "color": {"datum": "Noise projection", "type": "nominal"},
            "detail": {"field": "g", "type": "nominal"}
          }
        }
      ],
      "resolve": {"axis": {"x": "independent", "y": "independent"}}
    }
  ]
}
